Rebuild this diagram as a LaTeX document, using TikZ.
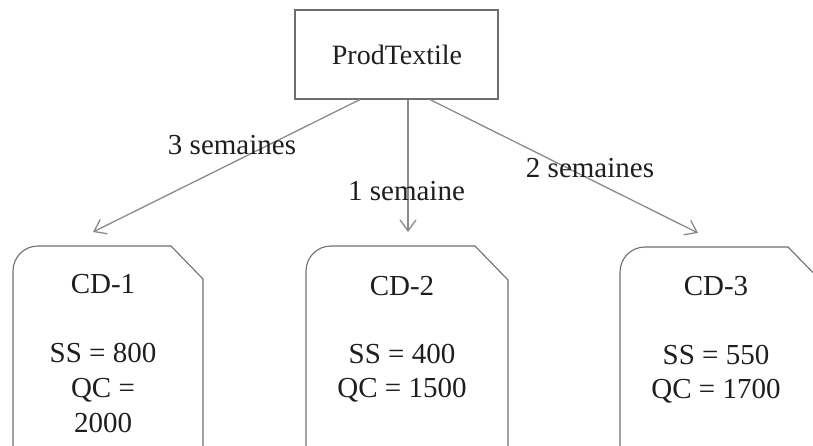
\documentclass[tikz,border=0pt]{standalone}
\usepackage{fontspec}
\setmainfont{Liberation Serif}
\usetikzlibrary{arrows.meta}
\definecolor{arrgray}{HTML}{8A8A8A}
\definecolor{boxgray}{HTML}{6E6E6E}
\definecolor{ink}{HTML}{1E1E1E}
\begin{document}
\begin{tikzpicture}[x=1pt,y=-1pt,
  txt/.style={inner sep=0pt, anchor=base, text=ink, font=\fontsize{29}{35}\selectfont},
  prodbox/.style={draw=boxgray, line width=1.1pt, minimum width=203pt, minimum height=89pt, inner sep=0pt},
  boxline/.style={draw=boxgray, line width=1.1pt},
  arr/.style={draw=arrgray, line width=1.3pt, -{Straight Barb[length=11pt,width=16pt,line width=1.3pt]}}]
\useasboundingbox (0,0) rectangle (813,446);
\clip (0,0) rectangle (813,446);
% top box
\node[prodbox] (prod) at (396.5,54.5) {};
\node[txt, font=\fontsize{28}{34}\selectfont] (prodt) at (397,65) {ProdTextile};
% distribution boxes outlines
\draw[boxline] (13,460) [rounded corners=25pt] -- (13,246) [sharp corners] -- (171,246) -- (203,279) -- (203,460);
\draw[boxline] (306,460) [rounded corners=25pt] -- (306,246) [sharp corners] -- (475,246) -- (508,280) -- (508,460);
\draw[boxline] (620,460) [rounded corners=25pt] -- (620,247) [sharp corners] -- (788,247) -- (830,290);
% box texts
\node[txt] (cd1) at (103,293) {CD-1};
\node[txt] (cd1ss) at (103,362) {SS = 800};
\node[txt] (cd1qc) at (103,397) {QC =};
\node[txt] (cd1qv) at (103,432) {2000};
\node[txt] (cd2) at (402,295) {CD-2};
\node[txt] (cd2ss) at (402,363) {SS = 400};
\node[txt] (cd2qc) at (402,397) {QC = 1500};
\node[txt] (cd3) at (716,295) {CD-3};
\node[txt] (cd3ss) at (716,364) {SS = 550};
\node[txt] (cd3qc) at (716,398) {QC = 1700};
% arrow ends
\coordinate (t1) at (93,232);
\coordinate (t2) at (408,232);
\coordinate (t3) at (698,233);
\draw[arr] ([xshift=-36.5pt]prod.south) -- (t1);
\draw[arr] ([xshift=11.5pt]prod.south) -- (t2);
\draw[arr] ([xshift=33.5pt]prod.south) -- (t3);
% labels
\node[txt] (l1) at (232,155) {3 semaines};
\node[txt] (l2) at (406.5,201) {1 semaine};
\node[txt] (l3) at (590,178) {2 semaines};
\end{tikzpicture}
\end{document}
